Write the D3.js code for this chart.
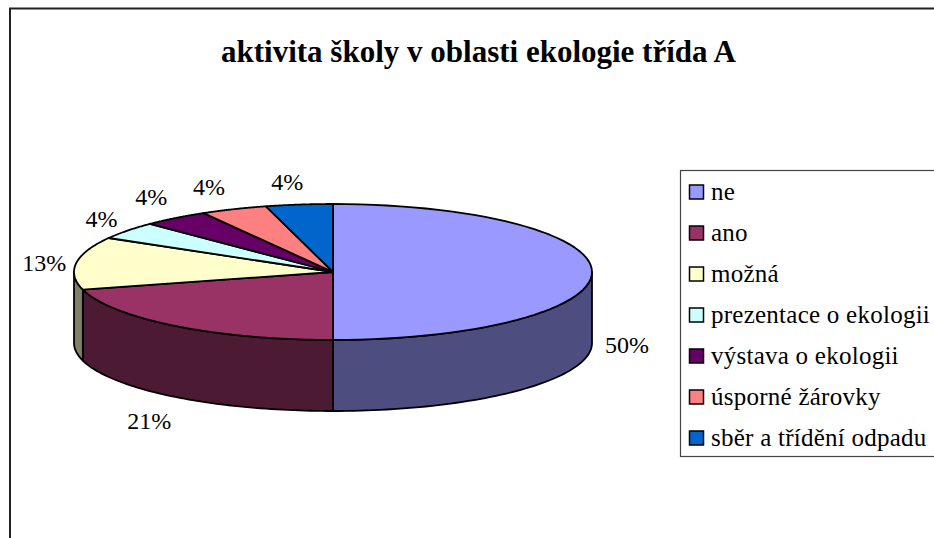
<!DOCTYPE html>
<html>
<head>
<meta charset="utf-8">
<script src="https://cdnjs.cloudflare.com/ajax/libs/d3/7.8.5/d3.min.js"></script>
<style>
    html, body { margin: 0; padding: 0; background: #fff; overflow: hidden; }
    text { font-family: "Liberation Serif", serif; fill: #000; }
</style>
</head>
<body>
<div id="chart"></div>
<script>
"use strict";

const titleText = "aktivita školy v oblasti ekologie třída A";
const categories = ["ne", "ano", "možná", "prezentace o ekologii", "výstava o ekologii", "úsporné žárovky", "sběr a třídění odpadu"];
const counts = [12, 5, 3, 1, 1, 1, 1];
const percentLabels = ["50%", "21%", "13%", "4%", "4%", "4%", "4%"];
const topColors = ["#9999ff", "#993366", "#ffffcc", "#ccffff", "#660066", "#ff8080", "#0066cc"];
const sideColors = ["#4d4d80", "#4d1a33", "#808066", "#668080", "#330033", "#804040", "#003366"];

const cont = { width: 934, height: 538 };
const pie3d = { cx: 333, cy: 272, rx: 259, ry: 68, depth: 71 };
// label offsets from the rim point at each slice's middle angle
const labelNudge = [[35, 81], [-26, 103], [-32, 8], [-26, -4], [-24, -13], [-25, -14], [-12, -15]];

const svg = d3.select("#chart").append("svg")
    .attr("width", cont.width)
    .attr("height", cont.height);

// frame
svg.append("path")
    .attr("d", "M10,538V8.5H934")
    .attr("fill", "none")
    .attr("stroke", "#222")
    .attr("stroke-width", 2);

svg.append("text")
    .attr("x", 478.5)
    .attr("y", 62)
    .attr("text-anchor", "middle")
    .attr("font-size", 31)
    .attr("font-weight", "bold")
    .text(titleText);

const slices = d3.pie().sort(null).value(d => d)(counts);

const px = d3.scaleLinear().domain([-1, 1]).range([pie3d.cx - pie3d.rx, pie3d.cx + pie3d.rx]);
const py = d3.scaleLinear().domain([-1, 1]).range([pie3d.cy - pie3d.ry, pie3d.cy + pie3d.ry]);

const rimPoint = (a, dy) => [px(Math.sin(a)), py(-Math.cos(a)) + dy];
const arcPoints = (a0, a1, dy) => d3.range(0, 61).map(i => rimPoint(a0 + (a1 - a0) * i / 60, dy));
const line = d3.line();

// outer wall, only the front half (90 to 270 degrees) can be seen
const visibleFrom = Math.PI / 2;
const visibleTo = Math.PI * 1.5;
slices.forEach((s, i) => {
    const a0 = Math.max(s.startAngle, visibleFrom);
    const a1 = Math.min(s.endAngle, visibleTo);
    if (a1 <= a0) return;
    const pts = arcPoints(a0, a1, 0).concat(arcPoints(a1, a0, pie3d.depth));
    svg.append("path")
        .attr("d", line(pts) + "Z")
        .attr("fill", sideColors[i])
        .attr("stroke", "#000")
        .attr("stroke-width", 1.8)
        .attr("stroke-linejoin", "round");
});

// top face
svg.selectAll(".slice")
    .data(slices)
    .enter()
    .append("path")
    .attr("class", "slice")
    .attr("d", d => line([[pie3d.cx, pie3d.cy]].concat(arcPoints(d.startAngle, d.endAngle, 0))) + "Z")
    .attr("fill", (d, i) => topColors[i])
    .attr("stroke", "#000")
    .attr("stroke-width", 1.8)
    .attr("stroke-linejoin", "round");

svg.selectAll(".pct")
    .data(slices)
    .enter()
    .append("text")
    .attr("class", "pct")
    .attr("x", (d, i) => rimPoint((d.startAngle + d.endAngle) / 2, 0)[0] + labelNudge[i][0])
    .attr("y", (d, i) => rimPoint((d.startAngle + d.endAngle) / 2, 0)[1] + labelNudge[i][1])
    .attr("text-anchor", "middle")
    .attr("font-size", 24)
    .text((d, i) => percentLabels[i]);

// legend
const legend = svg.append("g").attr("transform", "translate(680,170)");
legend.append("rect")
    .attr("x", 0.5)
    .attr("y", 0.5)
    .attr("width", 300)
    .attr("height", 286)
    .attr("fill", "#fff")
    .attr("stroke", "#444")
    .attr("stroke-width", 1.2);

const rowY = d3.scalePoint().domain(categories).range([22, 268]);

const rows = legend.selectAll(".row")
    .data(categories)
    .enter()
    .append("g")
    .attr("class", "row")
    .attr("transform", d => "translate(0," + rowY(d) + ")");

rows.append("rect")
    .attr("x", 9.5)
    .attr("y", -7)
    .attr("width", 14)
    .attr("height", 14)
    .attr("fill", (d, i) => topColors[i])
    .attr("stroke", "#000")
    .attr("stroke-width", 1.5);

rows.append("text")
    .attr("x", 31)
    .attr("y", 7.5)
    .attr("font-size", 25)
    .attr("letter-spacing", 0.25)
    .text(d => d);
</script>
</body>
</html>
